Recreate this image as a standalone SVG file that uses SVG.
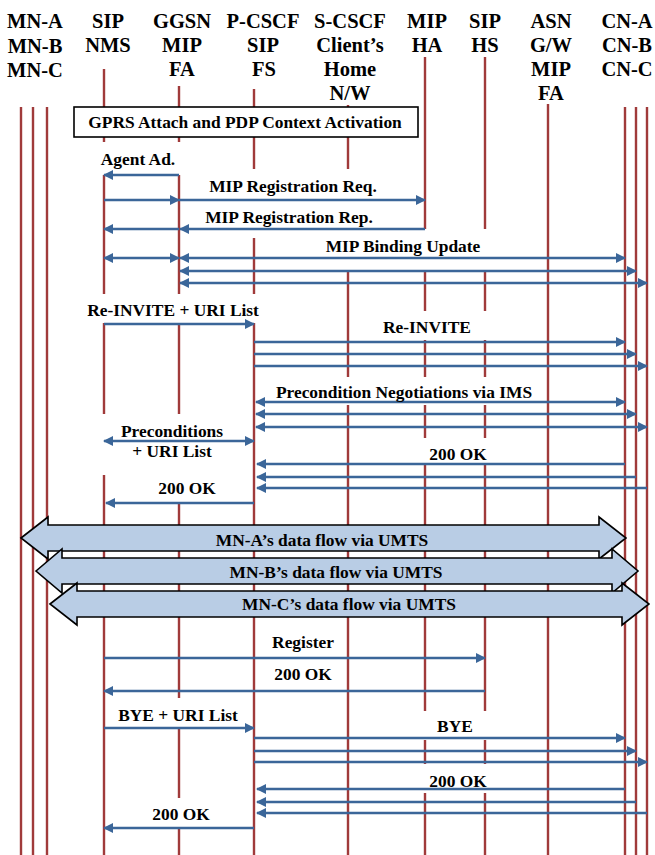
<svg xmlns="http://www.w3.org/2000/svg" width="655" height="855" viewBox="0 0 655 855">
<style>
.hd{font-family:"Liberation Serif","Times New Roman",serif;font-weight:bold;font-size:20.5px;text-anchor:middle;fill:#000}
.lb{font-family:"Liberation Serif","Times New Roman",serif;font-weight:bold;font-size:17.4px;text-anchor:middle;fill:#000}
.ll{stroke:#a03a3a;stroke-width:2.4;fill:none}
.ar{stroke:#3b6699;stroke-width:2.4;fill:none}
.e{marker-end:url(#ah)}
.b{marker-start:url(#ah);marker-end:url(#ah)}
.blk{fill:#b9cde5;stroke:#000;stroke-width:1.6}
</style>
<defs>
<marker id="ah" markerUnits="userSpaceOnUse" markerWidth="11" markerHeight="11" refX="9" refY="5" orient="auto-start-reverse" viewBox="0 0 11 11">
<path d="M0,0 L10,5 L0,10 z" fill="#3b6699"/>
</marker>
</defs>
<rect width="655" height="855" fill="#fff"/>

<g id="node-mn-a"><text class="hd" x="35" y="28">MN-A</text><path class="ll" d="M21,107V855"/></g>
<g id="node-mn-b"><text class="hd" x="35" y="52.5">MN-B</text><path class="ll" d="M33,107V855"/></g>
<g id="node-mn-c"><text class="hd" x="35" y="77">MN-C</text><path class="ll" d="M47,107V855"/></g>
<g id="node-sip-nms"><text class="hd" x="108" y="28">SIP</text><text class="hd" x="108" y="52">NMS</text><path class="ll" d="M104,69V142M104,175V294M104,323V414M104,475V855"/></g>
<g id="node-ggsn"><text class="hd" x="182" y="28">GGSN</text><text class="hd" x="182" y="52">MIP</text><text class="hd" x="182" y="76">FA</text><path class="ll" d="M179,86V142M179,175V294M179,325V414M179,503V698M179,729V798M179,828V855"/></g>
<g id="node-p-cscf"><text class="hd" x="263" y="28">P-CSCF</text><text class="hd" x="263" y="52">SIP</text><text class="hd" x="264" y="76">FS</text><path class="ll" d="M254,89V169M254,238V294M254,323V855"/></g>
<g id="node-s-cscf"><text class="hd" x="350" y="28">S-CSCF</text><text class="hd" x="350" y="52">Client’s</text><text class="hd" x="350" y="76">Home</text><text class="hd" x="350" y="100">N/W</text><path class="ll" d="M348,105V169M348,272V377M348,405V855"/></g>
<g id="node-mip-ha"><text class="hd" x="427" y="28">MIP</text><text class="hd" x="427" y="52">HA</text><path class="ll" d="M425,57V229M425,272V311M425,340V377M425,405V438M425,465V711M425,740V764M425,793V855"/></g>
<g id="node-sip-hs"><text class="hd" x="485" y="28">SIP</text><text class="hd" x="485" y="52">HS</text><path class="ll" d="M485,57V229M485,272V311M485,340V377M485,405V438M485,465V711M485,740V764M485,793V855"/></g>
<g id="node-asn"><text class="hd" x="551" y="28">ASN</text><text class="hd" x="551" y="52">G/W</text><text class="hd" x="551" y="76">MIP</text><text class="hd" x="551" y="100">FA</text><path class="ll" d="M548,104V855"/></g>
<g id="node-cn-a"><text class="hd" x="627" y="28">CN-A</text><path class="ll" d="M625,107V855"/></g>
<g id="node-cn-b"><text class="hd" x="627" y="52">CN-B</text><path class="ll" d="M636,107V855"/></g>
<g id="node-cn-c"><text class="hd" x="627" y="76">CN-C</text><path class="ll" d="M647,107V855"/></g>

<g id="node-gprs">
<rect x="74" y="107" width="344" height="30" fill="#fff" stroke="#000" stroke-width="1.6"/>
<text class="lb" x="245" y="128">GPRS Attach and PDP Context Activation</text>
</g>

<g id="connectors">
<path class="ar e" d="M179,175H104"/>
<path class="ar e" d="M104,200H179"/>
<path class="ar e" d="M179,200H425"/>
<path class="ar e" d="M425,229H180"/>
<path class="ar e" d="M179,229H104"/>
<path class="ar b" d="M104,258H179"/>
<path class="ar b" d="M180,258H625"/>
<path class="ar b" d="M180,271H636"/>
<path class="ar b" d="M180,283H647"/>
<path class="ar e" d="M104,324H254"/>
<path class="ar e" d="M254,342H625"/>
<path class="ar e" d="M254,354H636"/>
<path class="ar e" d="M254,366H647"/>
<path class="ar b" d="M256,402H625"/>
<path class="ar b" d="M256,414H636"/>
<path class="ar b" d="M256,427H647"/>
<path class="ar b" d="M104,441H254"/>
<path class="ar e" d="M625,464H257"/>
<path class="ar e" d="M636,477H257"/>
<path class="ar e" d="M647,488H257"/>
<path class="ar e" d="M254,503H106"/>
<polygon class="blk" points="21,538 48,517 48,525 599,525 599,517 626,538 599,559 599,551 48,551 48,559"/>
<polygon class="blk" points="36,571 62,549 62,558 612,558 612,549 638,571 612,593 612,584 62,584 62,593"/>
<polygon class="blk" points="50,604 77,583 77,591 622,591 622,583 649,604 622,625 622,617 77,617 77,625"/>
<path class="ar e" d="M104,658H485"/>
<path class="ar e" d="M485,691H104"/>
<path class="ar e" d="M104,728H254"/>
<path class="ar e" d="M254,738H625"/>
<path class="ar e" d="M254,751H636"/>
<path class="ar e" d="M254,762H647"/>
<path class="ar e" d="M625,789H257"/>
<path class="ar e" d="M636,802H257"/>
<path class="ar e" d="M647,813H257"/>
<path class="ar e" d="M254,828H104"/>
</g>

<g id="labels">
<text class="lb" x="138" y="165">Agent Ad.</text>
<text class="lb" x="293" y="192">MIP Registration Req.</text>
<text class="lb" x="289" y="223">MIP Registration Rep.</text>
<text class="lb" x="403" y="252">MIP Binding Update</text>
<text class="lb" x="173" y="316">Re-INVITE + URI List</text>
<text class="lb" x="427" y="333">Re-INVITE</text>
<text class="lb" x="404" y="398">Precondition Negotiations via IMS</text>
<text class="lb" x="172" y="437">Preconditions</text>
<text class="lb" x="172" y="457">+ URI List</text>
<text class="lb" x="458" y="460">200 OK</text>
<text class="lb" x="187" y="494">200 OK</text>
<text class="lb" x="322" y="546">MN-A’s data flow via UMTS</text>
<text class="lb" x="336" y="578">MN-B’s data flow via UMTS</text>
<text class="lb" x="349" y="610">MN-C’s data flow via UMTS</text>
<text class="lb" x="303" y="648">Register</text>
<text class="lb" x="303" y="680">200 OK</text>
<text class="lb" x="178" y="721">BYE + URI List</text>
<text class="lb" x="455" y="732">BYE</text>
<text class="lb" x="458" y="787">200 OK</text>
<text class="lb" x="181" y="820">200 OK</text>
</g>
</svg>
